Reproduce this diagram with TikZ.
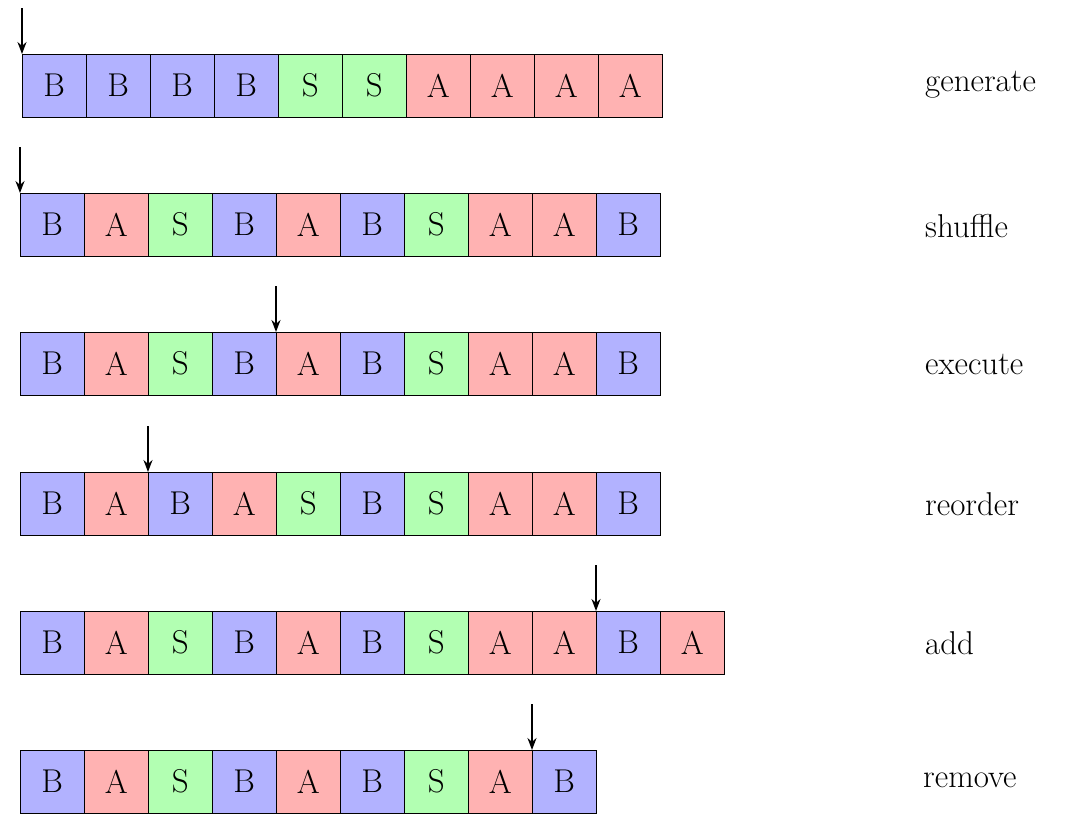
\documentclass[tikz,border=0pt]{standalone}
\usetikzlibrary{calc,arrows.meta}
\definecolor{cb}{RGB}{178,178,255}
\definecolor{cs}{RGB}{178,255,178}
\definecolor{ca}{RGB}{255,178,178}
\tikzset{
  cell/.style={draw,minimum width=64pt,minimum height=63pt,inner sep=0pt,anchor=north west,font=\fontsize{33}{38}\selectfont},
  cB/.style={cell,fill=cb},cS/.style={cell,fill=cs},cA/.style={cell,fill=ca},
  lbl/.style={anchor=west,inner sep=0pt,font=\fontsize{33}{38}\selectfont},
  ptr/.style={-{Stealth[length=12pt,width=9pt]},line width=1.8pt}
}
\begin{document}
\begin{tikzpicture}[x=1pt,y=-1pt]
\useasboundingbox (0,0) rectangle (1088,823);
\newcommand{\myrow}[4]{% name, x0, y0, list
  \foreach \t [count=\k] in {#4}{
    \node[c\t] (#1c\k) at ({#2+(\k-1)*64},#3) {\t};
  }
}
\myrow{ra}{22}{54}{B,B,B,B,S,S,A,A,A,A}
\myrow{rb}{20}{193}{B,A,S,B,A,B,S,A,A,B}
\myrow{rc}{20}{332}{B,A,S,B,A,B,S,A,A,B}
\myrow{rd}{20}{472}{B,A,B,A,S,B,S,A,A,B}
\myrow{re}{20}{611}{B,A,S,B,A,B,S,A,A,B,A}
\myrow{rf}{20}{750}{B,A,S,B,A,B,S,A,B}
\node[lbl] (la) at (925,85) {generate};
\node[lbl] (lb) at (925,226) {shuffle};
\node[lbl] (lc) at (925,364) {execute};
\node[lbl] (ld) at (925,504) {reorder};
\node[lbl] (le) at (925,643) {add};
\node[lbl] (lf) at (923,780) {remove};
\coordinate (pa) at ($(rac1.north west)+(0,-46)$);
\coordinate (pb) at ($(rbc1.north west)+(0,-46)$);
\coordinate (pc) at ($(rcc5.north west)+(0,-46)$);
\coordinate (pd) at ($(rdc3.north west)+(0,-46)$);
\coordinate (pe) at ($(rec10.north west)+(0,-46)$);
\coordinate (pf) at ($(rfc9.north west)+(0,-46)$);
\draw[ptr] (pa) -- (rac1.north west);
\draw[ptr] (pb) -- (rbc1.north west);
\draw[ptr] (pc) -- (rcc5.north west);
\draw[ptr] (pd) -- (rdc3.north west);
\draw[ptr] (pe) -- (rec10.north west);
\draw[ptr] (pf) -- (rfc9.north west);
\end{tikzpicture}
\end{document}
